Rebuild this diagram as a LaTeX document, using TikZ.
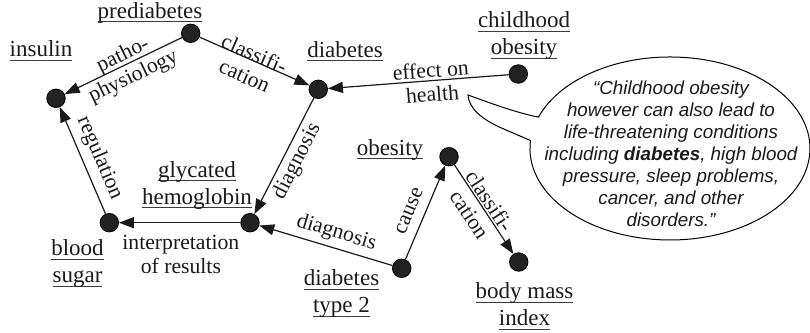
\documentclass[tikz,border=0pt]{standalone}
\usepackage{fontspec}
\setmainfont{Liberation Serif}
\newfontfamily\bubblefont{Liberation Sans}
\usetikzlibrary{arrows.meta}
\definecolor{ink}{HTML}{1A1A1A}
\definecolor{dotfill}{HTML}{222222}
\newcommand\ulx[1]{\setbox0\hbox{#1}\rlap{\color{ink!85}\rule[-3.9pt]{\wd0}{0.8pt}}\box0}
\tikzset{
  dot/.style={circle, draw=black, line width=0.8pt, fill=dotfill, minimum size=18.5pt, inner sep=0pt},
  lab/.style={font=\fontsize{23}{27}\selectfont, inner sep=0pt, text=ink, anchor=base},
  elab/.style={font=\fontsize{21.7}{24}\selectfont, inner sep=0pt, text=ink},
  elabone/.style={elab, text height=14.5pt, text depth=4.6pt},
  elabtwo/.style={elab, align=center},
  conn/.style={draw=ink, line width=1.2pt, -{Triangle[length=15pt,width=11pt]}},
  bubble/.style={draw=black, line width=1pt, fill=white},
  quote/.style={font=\bubblefont\itshape\fontsize{18.8}{22}\selectfont, align=center, text=ink, inner sep=0pt}
}
\begin{document}
\begin{tikzpicture}[x=1pt, y=-1pt]
\useasboundingbox (0,0) rectangle (810,332);
% speech bubble
\draw[bubble] (530.5,140.5) arc[start angle=175, end angle=520, x radius=140pt, y radius=91.5pt]
  .. controls (510,111) and (485,101) .. (468,95)
  .. controls (469,108) and (480,119) .. (506,130) -- cycle;
\node[quote] (quote) at (671,154) {“Childhood obesity\\however can also lead to\\life-threatening conditions\\including \textbf{diabetes}, high blood\\pressure, sleep problems,\\cancer, and other\\disorders.”};
% dots
\node[dot] (prediabetes) at (190.7,33.3) {};
\node[dot] (insulin) at (56,98.3) {};
\node[dot] (diabetes) at (318.3,89.3) {};
\node[dot] (childobesity) at (518.3,74) {};
\node[dot] (glycated) at (250,222.7) {};
\node[dot] (bloodsugar) at (109.3,222.7) {};
\node[dot] (obesity) at (449,156.7) {};
\node[dot] (type2) at (401.7,268.3) {};
\node[dot] (bmi) at (518.7,262) {};
% labels
\node[lab] (lprediabetes) at (150,18.3) {\ulx{prediabetes}};
\node[lab] (linsulin) at (41,56.7) {\ulx{insulin}};
\node[lab] (ldiabetes) at (345,57.2) {\ulx{diabetes}};
\node[lab] (lchildobesity) at (524,27.5) {\begin{tabular}[t]{@{}c@{}}\ulx{childhood}\\\ulx{obesity}\end{tabular}};
\node[lab] (lglycated) at (197,177.3) {\begin{tabular}[t]{@{}c@{}}\ulx{glycated}\\\ulx{hemoglobin}\end{tabular}};
\node[lab] (lbloodsugar) at (77.5,255.4) {\begin{tabular}[t]{@{}c@{}}\ulx{blood}\\\ulx{sugar}\end{tabular}};
\node[lab] (lobesity) at (390,155) {\ulx{obesity}};
\node[lab] (ltype2) at (341.5,285.7) {\begin{tabular}[t]{@{}c@{}}\ulx{diabetes}\\\ulx{type 2}\end{tabular}};
\node[lab] (lbmi) at (524.5,298.9) {\begin{tabular}[t]{@{}c@{}}\ulx{body mass}\\\ulx{index}\end{tabular}};
% connectors
\draw[conn] (prediabetes) -- node[elabtwo, pos=.467, sloped, yshift=-2.6pt] (e1) {patho-\\physiology} (insulin);
\draw[conn] (prediabetes) -- node[elabtwo, pos=.474, sloped, yshift=-5pt] (e2) {classifi-\\cation} (diabetes);
\draw[conn] (childobesity) -- node[elabtwo, pos=.427, sloped, yshift=-1.4pt] (e3) {effect on\\health} (diabetes);
\draw[conn] (diabetes) -- node[elabone, pos=.49, sloped, below=4pt] (e4) {diagnosis} (glycated);
\draw[conn] (glycated) -- node[elabtwo, pos=.49, below=11.5pt] (e5) {interpretation\\of results} (bloodsugar);
\draw[conn] (bloodsugar) -- node[elabone, pos=.46, sloped, above=6pt] (e6) {regulation} (insulin);
\draw[conn] (type2) -- node[elabone, pos=.453, sloped, above=4.7pt] (e7) {diagnosis} (glycated);
\draw[conn] (type2) -- node[elabone, pos=.45, sloped, above=5pt] (e8) {cause} (obesity);
\draw[conn] (obesity) -- node[elabtwo, pos=.466, sloped, yshift=-2.5pt] (e9) {classifi-\\cation} (bmi);
\end{tikzpicture}
\end{document}
